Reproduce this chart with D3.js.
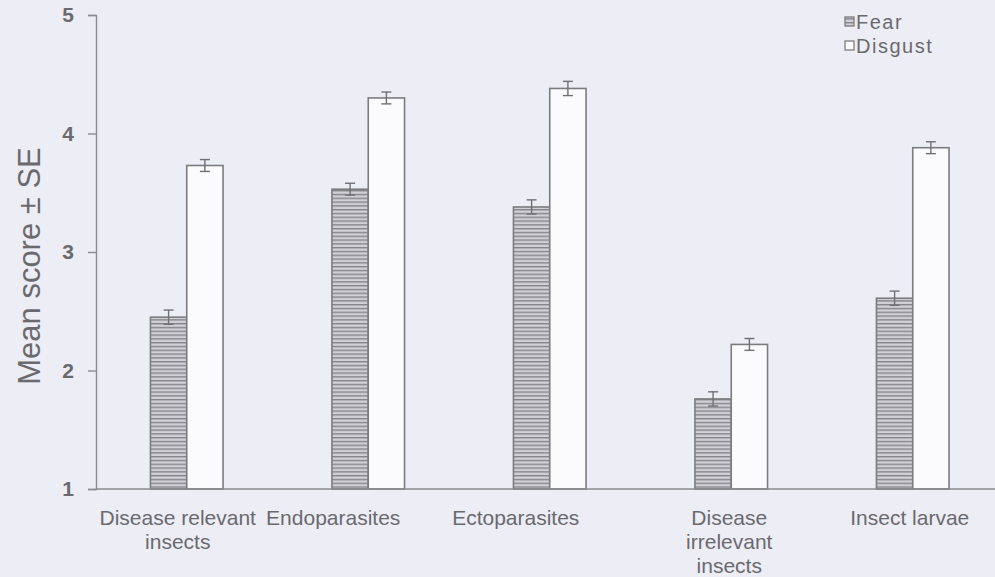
<!DOCTYPE html>
<html>
<head>
<meta charset="utf-8">
<script src="https://cdn.jsdelivr.net/npm/d3@7"></script>
<style>
  html, body { margin: 0; padding: 0; background: #ededf6; }
  svg { display: block; font-family: "Liberation Sans", Arial, sans-serif; }
  .txt { fill: #6a6a6e; }
</style>
</head>
<body>
<script>
// data
var categories = [
   ["Disease relevant", "insects"],
   ["Endoparasites"],
   ["Ectoparasites"],
   ["Disease", "irrelevant", "insects"],
   ["Insect larvae"]
];
var seriesNames = ["Fear", "Disgust"];
var fearMeans = [2.45, 3.53, 3.38, 1.76, 2.61];
var fearSE = [0.06, 0.05, 0.06, 0.06, 0.06];
var disgustMeans = [3.73, 4.30, 4.38, 2.22, 3.88];
var disgustSE = [0.05, 0.05, 0.06, 0.05, 0.05];
var yTicks = [1, 2, 3, 4, 5];

var width = 995, height = 577;
var margin = {top: 15, left: 96, bottom: 88};

var svg = d3.select("body").append("svg")
   .attr("width", width)
   .attr("height", height);

// horizontal hatch for the fear bars
var pat = svg.append("defs").append("pattern")
   .attr("id", "hatch")
   .attr("patternUnits", "userSpaceOnUse")
   .attr("width", 6)
   .attr("height", 3.8);
pat.append("rect").attr("width", 6).attr("height", 3.8).attr("fill", "#d0d0d6");
pat.append("line")
   .attr("x1", 0).attr("x2", 6).attr("y1", 0.7).attr("y2", 0.7)
   .attr("stroke", "#84848a").attr("stroke-width", 1.4);

var keys = categories.map(function(c, i) { return i; });

var x0 = d3.scaleBand()
   .domain(keys)
   .range([margin.left, 1003.5])
   .paddingInner(0.6)
   .paddingOuter(0.3);
var x1 = d3.scaleBand()
   .domain(seriesNames)
   .range([0, x0.bandwidth()]);
var y = d3.scaleLinear()
   .domain([1, 5])
   .range([height - margin.bottom, margin.top]);

var rows = [];
keys.forEach(function(i) {
   rows.push({cat: i, s: "Fear", v: fearMeans[i], se: fearSE[i]});
   rows.push({cat: i, s: "Disgust", v: disgustMeans[i], se: disgustSE[i]});
});

// bars
svg.selectAll(".bar")
   .data(rows)
   .enter().append("rect")
   .attr("class", "bar")
   .attr("x", function(d) { return x0(d.cat) + x1(d.s); })
   .attr("width", x1.bandwidth())
   .attr("y", function(d) { return y(d.v); })
   .attr("height", function(d) { return y(1) - y(d.v); })
   .attr("fill", function(d) { return d.s === "Fear" ? "url(#hatch)" : "#fbfbfd"; })
   .attr("stroke", "#7c7c80")
   .attr("stroke-width", 1.6);

// error bars
var eb = svg.selectAll(".err")
   .data(rows)
   .enter().append("g")
   .attr("class", "err")
   .attr("stroke", "#707074")
   .attr("stroke-width", 1.4)
   .attr("transform", function(d) {
      return "translate(" + (x0(d.cat) + x1(d.s) + x1.bandwidth() / 2) + ",0)";
   });
eb.append("line")
   .attr("y1", function(d) { return y(d.v + d.se); })
   .attr("y2", function(d) { return y(d.v - d.se); });
eb.append("line")
   .attr("x1", -5).attr("x2", 5)
   .attr("y1", function(d) { return y(d.v + d.se); })
   .attr("y2", function(d) { return y(d.v + d.se); });
eb.append("line")
   .attr("x1", -5).attr("x2", 5)
   .attr("y1", function(d) { return y(d.v - d.se); })
   .attr("y2", function(d) { return y(d.v - d.se); });

// y axis
var yAxis = svg.append("g")
   .attr("transform", "translate(" + margin.left + ",0)")
   .call(d3.axisLeft(y).tickValues(yTicks).tickSize(8).tickPadding(14).tickFormat(d3.format("d")));
yAxis.select(".domain").attr("stroke", "#8a8a8e").attr("stroke-width", 1.4);
yAxis.selectAll(".tick line").attr("stroke", "#8a8a8e").attr("stroke-width", 1.4);
yAxis.selectAll(".tick text")
   .attr("class", "txt")
   .style("font-size", "21px")
   .style("font-weight", "bold");

// x axis line
svg.append("line")
   .attr("x1", margin.left).attr("x2", width)
   .attr("y1", y(1)).attr("y2", y(1))
   .attr("stroke", "#8a8a8e")
   .attr("stroke-width", 1.4);

// category labels
var labelShift = [-9, -35, -34, -2, -3];
svg.selectAll(".cat")
   .data(keys)
   .enter().append("text")
   .attr("class", "txt cat")
   .attr("text-anchor", "middle")
   .style("font-size", "21px")
   .attr("x", function(i) { return x0(i) + x0.bandwidth() / 2 + labelShift[i]; })
   .attr("y", y(1) + 36)
   .each(function(i) {
      var t = d3.select(this);
      categories[i].forEach(function(line, k) {
         t.append("tspan")
            .attr("x", t.attr("x"))
            .attr("dy", k === 0 ? 0 : 24)
            .text(line);
      });
   });

// y axis title
svg.append("text")
   .attr("class", "txt")
   .attr("text-anchor", "middle")
   .attr("transform", "translate(40,266) rotate(-90)")
   .style("font-size", "31px")
   .text("Mean score \u00b1 SE");

// legend
var legend = svg.selectAll(".leg")
   .data(seriesNames)
   .enter().append("g")
   .attr("class", "leg")
   .attr("transform", function(d, i) { return "translate(845," + (22 + i * 24) + ")"; });
legend.append("rect")
   .attr("x", 0).attr("y", -5)
   .attr("width", 9).attr("height", 9)
   .attr("fill", function(d) { return d === "Fear" ? "url(#hatch)" : "#fbfbfd"; })
   .attr("stroke", "#7c7c80")
   .attr("stroke-width", 1.3);
legend.append("text")
   .attr("class", "txt")
   .attr("x", 11)
   .attr("dy", "0.35em")
   .style("font-size", "20px")
   .style("letter-spacing", "1.5px")
   .text(function(d) { return d; });
</script>
</body>
</html>
